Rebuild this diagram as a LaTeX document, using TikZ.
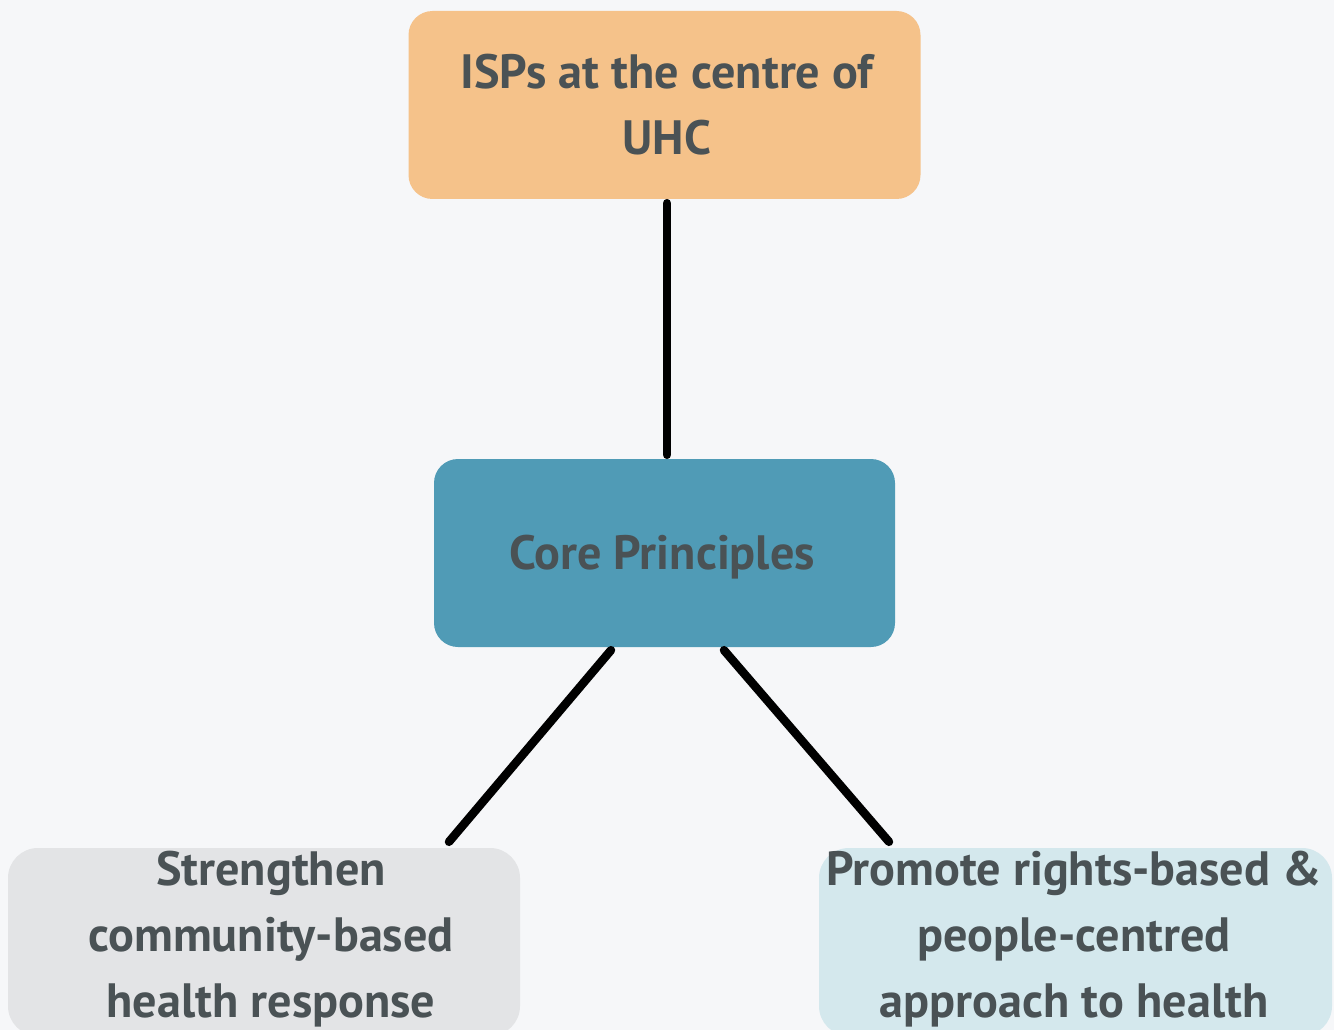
\documentclass[tikz,border=0pt]{standalone}
\usepackage{fontspec}
\setmainfont{PT Sans}
\usetikzlibrary{calc}
\definecolor{bgc}{HTML}{F6F7F9}
\definecolor{txtc}{HTML}{4A5255}
\definecolor{orangec}{HTML}{F5C28A}
\definecolor{bluec}{HTML}{509BB6}
\definecolor{greyc}{HTML}{E3E4E6}
\definecolor{lightc}{HTML}{D4E8ED}
\tikzset{
  box/.style={rectangle, rounded corners=24pt, minimum width=512pt, minimum height=188pt, inner sep=0pt, draw=none},
  lbl/.style={text=txtc, align=center, font=\bfseries\fontsize{48.2}{66}\selectfont, inner sep=0pt},
  link/.style={line width=8.5pt, line cap=round, draw=black}
}
\begin{document}
\begin{tikzpicture}[x=1pt,y=-1pt]
\useasboundingbox (0,0) rectangle (1334,1030);
\fill[bgc] (0,0) rectangle (1334,1030);
\begin{scope}
\clip (0,0) rectangle (1334,1030);
\node[box, fill=orangec] (top) at (664.5,105) {};
\node[box, fill=bluec, minimum width=461pt] (core) at (664.5,553) {};
\node[box, fill=greyc, rounded corners=30pt] (bl) at (264,942) {};
\node[box, fill=lightc, rounded corners=30pt, minimum width=513pt] (br) at (1075.5,942) {};
\end{scope}
\node[lbl] (toptxt) at (667,105) {ISPs at the centre of\\UHC};
\node[lbl] (coretxt) at (662,557) {Core Principles};
\node[lbl] (bltxt) at (271,939) {Strengthen\\community-based\\health response};
\node[lbl] (brtxt) at (1074,939) {Promote rights-based \&\\people-centred\\approach to health};
\draw[link] ($(top.south)+(2.5,4)$) -- ($(core.north)+(2.5,-4)$);
\draw[link] ($(core.south)+(-53.5,3)$) -- ($(bl.north)+(185,-6)$);
\draw[link] ($(core.south)+(59.5,3)$) -- ($(br.north)+(-186.5,-6)$);
\end{tikzpicture}
\end{document}
